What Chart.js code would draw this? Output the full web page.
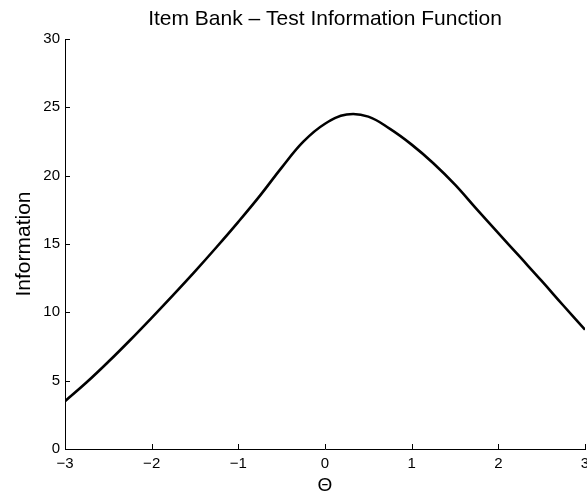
<!DOCTYPE html>
<html>
<head>
<meta charset="utf-8">
<script src="https://cdn.jsdelivr.net/npm/chart.js@4"></script>
<style>
  html, body { margin: 0; padding: 0; background: #fff; }
  #wrap { width: 587px; height: 494px; position: relative; }
</style>
</head>
<body>
<div id="wrap"><canvas id="tif"></canvas></div>
<script>
// Values
const theta = [-3, -2.75, -2.5, -2.25, -2, -1.75, -1.5, -1.25, -1, -0.75, -0.5, -0.25,
               0, 0.25, 0.5, 0.75, 1, 1.25, 1.5, 1.75, 2, 2.25, 2.5, 2.75, 3];
const information = [3.5, 4.88, 6.38, 7.96, 9.6, 11.28, 13.0, 14.78, 16.62, 18.54, 20.59, 22.49,
                     23.8, 24.47, 24.32, 23.42, 22.27, 20.91, 19.34, 17.55, 15.8, 14.05, 12.3, 10.5, 8.73];
const xTickLabels = ['−3', '−2', '−1', '0', '1', '2', '3'];
const xTickValues = [-3, -2, -1, 0, 1, 2, 3];
const yTickValues = [0, 5, 10, 15, 20, 25, 30];

const FONT = '"Liberation Sans", Arial, Helvetica, sans-serif';

// MATLAB style: short tick marks pointing into the axes
const inwardTicks = {
    id: 'inwardTicks',
    afterDatasetsDraw(chart) {
        const { ctx, chartArea, scales } = chart;
        const len = 5;
        ctx.save();
        ctx.strokeStyle = '#000';
        ctx.lineWidth = 1;
        ctx.beginPath();
        xTickValues.forEach(v => {
            const px = Math.round(scales.x.getPixelForValue(v)) + 0.5;
            ctx.moveTo(px, chartArea.bottom);
            ctx.lineTo(px, chartArea.bottom - len);
        });
        yTickValues.forEach(v => {
            const py = Math.round(scales.y.getPixelForValue(v)) + 0.5;
            ctx.moveTo(chartArea.left, py);
            ctx.lineTo(chartArea.left + len, py);
        });
        ctx.stroke();
        ctx.restore();
    }
};

new Chart(document.getElementById('tif'), {
    type: 'line',
    data: {
        datasets: [{
            data: theta.map((t, i) => ({ x: t, y: information[i] })),
            borderColor: '#000',
            borderWidth: 2.6,
            pointRadius: 0,
            fill: false,
            tension: 0.4
        }]
    },
    options: {
        responsive: true,
        maintainAspectRatio: false,
        animation: false,
        layout: { padding: { left: 0, right: 2, top: 0, bottom: 0 } },
        plugins: {
            legend: { display: false },
            tooltip: { enabled: false },
            title: {
                display: true,
                text: 'Item Bank – Test Information Function',
                color: '#000',
                fullSize: false,
                font: { family: FONT, size: 21, weight: 'normal', lineHeight: 1.2 },
                padding: { top: 6.5, bottom: 7.3 }
            }
        },
        scales: {
            x: {
                type: 'linear',
                min: -3,
                max: 3,
                afterBuildTicks: s => { s.ticks = xTickValues.map(v => ({ value: v })); },
                afterFit: s => { s.height = 45; s.paddingLeft = 0; s.paddingRight = 0; },
                ticks: {
                    color: '#000',
                    padding: 6,
                    maxRotation: 0,
                    autoSkip: false,
                    font: { family: FONT, size: 15 },
                    callback: v => xTickLabels[xTickValues.indexOf(v)]
                },
                grid: { display: true, drawOnChartArea: false, drawTicks: false },
                border: { display: true, color: '#000', width: 1 },
                title: {
                    display: true,
                    text: 'Θ',
                    color: '#000',
                    font: { family: FONT, size: 19, lineHeight: 0.9 },
                    padding: { top: 0, bottom: 0 }
                }
            },
            y: {
                type: 'linear',
                min: 0,
                max: 30,
                afterBuildTicks: s => { s.ticks = yTickValues.map(v => ({ value: v })); },
                afterFit: s => { s.width = 65; s.paddingTop = 0; s.paddingBottom = 0; },
                ticks: {
                    color: '#000',
                    padding: 5,
                    autoSkip: false,
                    font: { family: FONT, size: 15 }
                },
                grid: { display: true, drawOnChartArea: false, drawTicks: false },
                border: { display: true, color: '#000', width: 1 },
                title: {
                    display: true,
                    text: 'Information',
                    color: '#000',
                    font: { family: FONT, size: 21, lineHeight: 1.2 },
                    padding: { top: 12, bottom: 0 }
                }
            }
        }
    },
    plugins: [inwardTicks]
});
</script>
</body>
</html>
